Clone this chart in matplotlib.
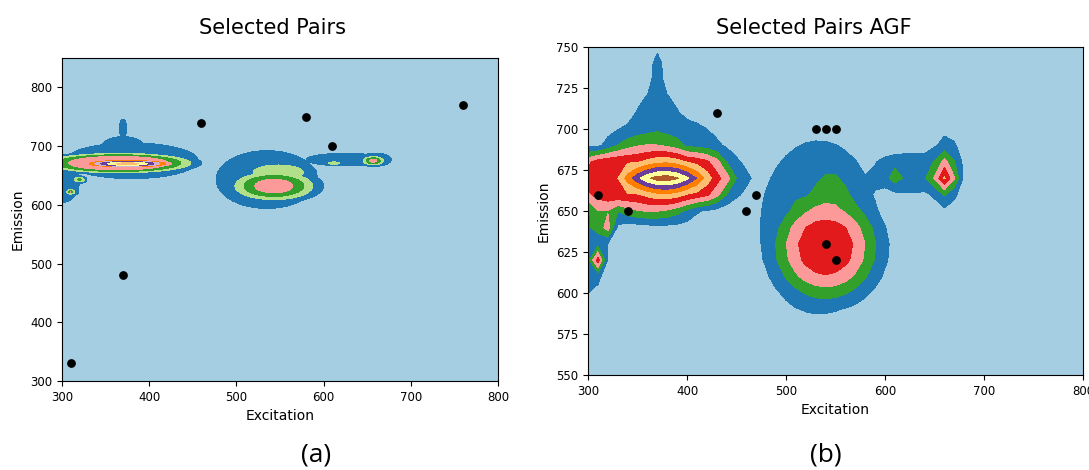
import numpy as np
import matplotlib
matplotlib.use('Agg')
import matplotlib.pyplot as plt

# Paired palette, one colour per contour band
PAIRED = plt.cm.Paired.colors
colors_a = [PAIRED[i] for i in (0, 1, 2, 3, 4, 7, 8, 9, 10, 6)]
colors_b = [PAIRED[i] for i in (0, 1, 3, 4, 5, 6, 7, 9, 10, 11)]
levels = np.arange(0, 11)

# Peak components of the excitation/emission intensity maps
# (a) Selected Pairs
peak_x_a = [365, 375, 380, 370, 300, 370, 320, 310, 543, 548, 535, 625, 612, 657, 660]
peak_y_a = [671, 670, 675, 700, 640, 730, 643, 622, 632, 655, 643, 677, 671, 675, 677]
width_x_a = [85, 55, 85, 30, 25, 5, 8, 6, 48, 45, 65, 50, 12, 13, 22]
width_y_a = [17, 6.5, 34, 20, 45, 20, 6, 5, 25, 20, 55, 12, 4, 8, 14]
shape_a = [4, 2, 4, 2, 2, 2, 2, 1, 2.5, 3, 4, 4, 2, 2, 2]
height_a = [4.9, 9.5, 1.9, 1.9, 1.9, 1.9, 3.2, 4.3, 4.6, 2.6, 1.9, 1.9, 2.6, 4.4, 1.9]

# (b) Selected Pairs AGF
peak_x_b = [363, 377, 376, 370, 300, 370, 315, 310, 320, 540, 533, 545, 627, 610, 660, 660, 662]
peak_y_b = [670, 670, 676, 705, 640, 735, 648, 620, 640, 628, 640, 660, 673, 670, 672, 672, 675]
width_x_b = [88, 58, 74, 28, 25, 5, 18, 4, 4, 53, 66, 30, 48, 8, 14, 14, 18]
width_y_b = [22, 14, 36, 22, 50, 14, 12, 4, 4, 32.5, 59, 18, 14, 4, 12, 20, 26]
shape_b = [8, 2, 4, 2, 2, 2, 4, 2, 2, 2.5, 4, 3, 4, 2, 2, 3, 2]
height_b = [4.9, 9.6, 1.9, 1.9, 1.9, 1.9, 2.95, 4.5, 3.5, 4.9, 1.9, 2.6, 1.9, 2.5, 5.3, 2.6, 1.9]

# Selected excitation/emission pairs
pairs_ex_a = [310, 370, 460, 580, 610, 760]
pairs_em_a = [330, 480, 740, 750, 700, 770]
pairs_ex_b = [310, 340, 430, 460, 470, 530, 540, 550, 540, 550]
pairs_em_b = [660, 650, 710, 650, 660, 700, 700, 700, 630, 620]


def intensity(X, Y, px, py, wx, wy, shape, height):
    # each peak is an elliptical bump; overlapping peaks keep the larger value
    Z = np.zeros_like(X, dtype=float)
    for cx, cy, sx, sy, p, h in zip(px, py, wx, wy, shape, height):
        r = np.hypot((X - cx) / sx, (Y - cy) / sy)
        Z = np.maximum(Z, h * np.exp(-r ** p))
    return Z


def draw_panel(ax, ylim, Z, X, Y, cols, ex, em):
    ax.contourf(X, Y, np.clip(Z, 0, 9.99), levels=levels, colors=cols)
    ax.scatter(ex, em, s=28, color='black', zorder=3)
    ax.set_xlim(300, 800)
    ax.set_ylim(*ylim)
    ax.set_xlabel('Excitation', fontsize=10)
    ax.set_ylabel('Emission', fontsize=10)
    ax.tick_params(labelsize=8.5)


fig = plt.figure(figsize=(10.89, 4.70), dpi=100)
ax_a = fig.add_axes([0.0569, 0.1894, 0.4004, 0.6872])
ax_b = fig.add_axes([0.540, 0.2021, 0.4545, 0.6979])

# fine grid for (a)
Xa, Ya = np.meshgrid(np.linspace(300, 800, 501), np.linspace(300, 850, 551))
Za = intensity(Xa, Ya, peak_x_a, peak_y_a, width_x_a, width_y_a, shape_a, height_a)
draw_panel(ax_a, (300, 850), Za, Xa, Ya, colors_a, pairs_ex_a, pairs_em_a)
ax_a.set_yticks([300, 400, 500, 600, 700, 800])

# 10 nm sampling for (b)
Xb, Yb = np.meshgrid(np.arange(300, 801, 10), np.arange(550, 751, 10))
Zb = intensity(Xb, Yb, peak_x_b, peak_y_b, width_x_b, width_y_b, shape_b, height_b)
draw_panel(ax_b, (550, 750), Zb, Xb, Yb, colors_b, pairs_ex_b, pairs_em_b)
ax_b.set_yticks(np.arange(550, 751, 25))

fig.text(0.250, 0.94, 'Selected Pairs', fontsize=15, ha='center', va='center')
fig.text(0.7475, 0.94, 'Selected Pairs AGF', fontsize=15, ha='center', va='center')

fig.text(0.290, 0.032, '(a)', fontsize=19, family='Open Sans', ha='center', va='center')
fig.text(0.758, 0.032, '(b)', fontsize=19, family='Open Sans', ha='center', va='center')

fig.savefig('out.png', dpi=100)
